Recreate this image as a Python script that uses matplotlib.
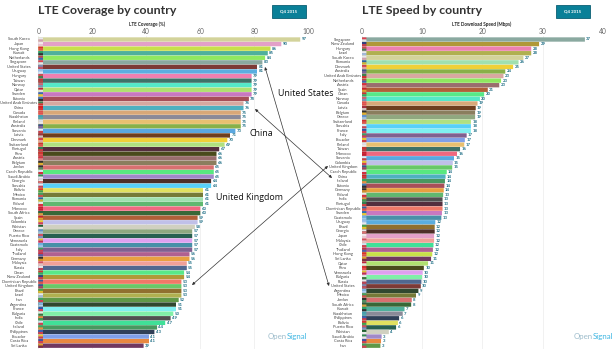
# LTE coverage and speed by country, two panels side by side.

import numpy as np
from matplotlib import pyplot as plt
from matplotlib.patches import FancyBboxPatch

plt.rcParams['font.family'] = ['Lato', 'DejaVu Sans']

# Coverage panel, order of the chart
cov_countries = ["South Korea", "Japan", "Hong Kong", "Kuwait", "Netherlands", "Singapore",
                 "United States", "Uruguay", "Hungary", "Taiwan", "Norway", "Qatar", "Sweden",
                 "Estonia", "United Arab Emirates", "China", "Canada", "Kazakhstan", "Finland",
                 "Australia", "Slovenia", "Latvia", "Denmark", "Switzerland", "Portugal", "Peru",
                 "Austria", "Belgium", "Jordan", "Czech Republic", "Saudi Arabia", "Georgia",
                 "Slovakia", "Bolivia", "Mexico", "Romania", "Poland", "Morocco", "South Africa",
                 "Spain", "Colombia", "Pakistan", "Greece", "Puerto Rico", "Venezuela",
                 "Guatemala", "Italy", "Thailand", "Germany", "Malaysia", "Russia", "Oman",
                 "New Zealand", "Dominican Republic", "United Kingdom", "Brazil", "Israel", "Iran",
                 "Argentina", "France", "Bulgaria", "India", "Chile", "Ireland", "Philippines",
                 "Ecuador", "Costa Rica", "Sri Lanka"]
cov_values = [97, 90, 86, 85, 84, 83, 81, 81, 79, 79, 79, 79, 79, 78, 76, 76, 75, 75, 75, 75,
              73, 71, 70, 69, 67, 66, 66, 66, 65, 65, 65, 64, 64, 61, 61, 61, 61, 60, 60, 59,
              59, 58, 57, 57, 57, 57, 57, 56, 56, 55, 55, 54, 54, 53, 53, 53, 53, 52, 51, 51,
              50, 49, 47, 44, 43, 41, 41, 39]

# Speed panel, order of the chart
speed_countries = ["Singapore", "New Zealand", "Hungary", "Israel", "South Korea", "Romania",
                   "Denmark", "Australia", "United Arab Emirates", "Netherlands", "Austria",
                   "Spain", "Oman", "Norway", "Canada", "Latvia", "Belgium", "Greece",
                   "Switzerland", "Slovakia", "France", "Italy", "Ecuador", "Finland", "Taiwan",
                   "Morocco", "Slovenia", "Colombia", "United Kingdom", "Czech Republic", "China",
                   "Ireland", "Estonia", "Germany", "Poland", "India", "Portugal",
                   "Dominican Republic", "Sweden", "Guatemala", "Uruguay", "Brazil", "Georgia",
                   "Japan", "Malaysia", "Chile", "Thailand", "Hong Kong", "Sri Lanka", "Qatar",
                   "Peru", "Venezuela", "Bulgaria", "Russia", "United States", "Argentina",
                   "Mexico", "Jordan", "South Africa", "Kuwait", "Kazakhstan", "Philippines",
                   "Bolivia", "Puerto Rico", "Pakistan", "Saudi Arabia", "Costa Rica", "Iran"]
speed_values = [37.0, 29.4, 28.1, 28.1, 26.8, 26.0, 25.1, 23.8, 23.5, 23.1, 22.8, 20.9, 20.3,
                19.6, 19.2, 18.9, 18.8, 18.8, 18.1, 18.1, 18.1, 17.4, 17.1, 17.0, 16.3, 15.8,
                15.3, 15.1, 15.0, 14.1, 13.9, 13.8, 13.7, 13.6, 13.5, 13.4, 13.4, 13.4, 13.3,
                13.2, 12.2, 12.1, 12.1, 12.0, 12.0, 11.9, 11.8, 11.7, 11.5, 11.0, 10.3, 10.1,
                10.0, 9.9, 9.8, 9.4, 9.0, 8.3, 8.2, 7.1, 6.8, 6.2, 6.0, 5.7, 4.5, 3.3, 3.2, 3.1]
speed_labels = [37, 29, 28, 28, 27, 26, 25, 24, 23, 23, 23, 21, 20, 20, 19, 19, 19, 19, 18, 18,
                18, 17, 17, 17, 16, 16, 15, 15, 15, 14, 14, 14, 14, 14, 13, 13, 13, 13, 13, 13,
                12, 12, 12, 12, 12, 12, 12, 12, 11, 11, 10, 10, 10, 10, 10, 9, 9, 8, 8, 7, 7,
                6, 6, 6, 4, 3, 3, 3]

# Every country keeps its colour in both panels (same order as cov_countries)
bar_colors = ["#d3d39b", "#e3a0c8", "#c8e04a", "#4fb09c", "#8fe860", "#8aa9a0", "#7d3a36",
              "#5aaee0", "#ee80b0", "#3e7268", "#55e8c8", "#b0e070", "#c878c0", "#a84e58",
              "#d8a8a0", "#4fb0c0", "#d8a878", "#8a8a98", "#e8c070", "#88b048", "#5aa8e0",
              "#6e3e1e", "#f0d038", "#b0e080", "#552e3e", "#4a4a1c", "#9a6e6e", "#8a7e5e",
              "#d87070", "#58e880", "#a088c8", "#4e3028", "#58d0f8", "#e0e060", "#757a38",
              "#a0e0b0", "#60b870", "#f06880", "#386838", "#b06038", "#c0c0e8", "#d0d0c0",
              "#90a880", "#286050", "#e0a0f0", "#4890a8", "#806090", "#b06090", "#e8a040",
              "#f0a098", "#506890", "#58e888", "#b09838", "#f07868", "#68c868", "#907030",
              "#b0b050", "#609848", "#304830", "#80f0f0", "#80f0a8", "#505050", "#40e098",
              "#489860", "#304058", "#80a0e8", "#e88840", "#703860"]

# Rough flag colours, upper half and lower half (same order as cov_countries)
flag_top = ["#e8e8f0", "#f4e8ec", "#d83030", "#30a060", "#c04050", "#e04050", "#8088b0", "#a0c0e8",
            "#c85050", "#d03030", "#d06070", "#c02040", "#3070b0", "#4080c0", "#408050", "#d82020",
            "#e05050", "#40a0b0", "#d8e0f0", "#405090", "#e8e8f0", "#a03040", "#d04050", "#d03030",
            "#308050", "#d83030", "#d83040", "#303030", "#303030", "#e0e0f0", "#309050", "#e8e8e8",
            "#e8e8f0", "#d83030", "#40a060", "#3060a0", "#e8e8e8", "#c82030", "#306040", "#c82030",
            "#e8c830", "#206030", "#6090d0", "#d05060", "#e0c030", "#70b0e0", "#40a060", "#c83040",
            "#303030", "#d05060", "#e8e8e8", "#d03030", "#304080", "#3060a0", "#405090", "#40a050",
            "#e8e8f0", "#40a060", "#80b8e8", "#3050a0", "#e8e8e8", "#e89040", "#d8e0f0", "#40a060",
            "#4060b0", "#e8c830", "#4050a0", "#e0a030"]
flag_bottom = ["#d0a0b0", "#e8c8d0", "#e05050", "#303030", "#4060b0", "#e8e8e8", "#c05060", "#e8e8f0",
               "#408050", "#c04040", "#8090b0", "#e8e0e0", "#e8c830", "#303030", "#d03030", "#d83030",
               "#e05050", "#50a8b0", "#e8e8f0", "#8060a0", "#d04040", "#d0c0c0", "#e0a0a0", "#e05050",
               "#d04040", "#e05050", "#e08080", "#e0b030", "#509060", "#d03040", "#e8e8e8", "#e07070",
               "#d04050", "#40a050", "#d05050", "#d0b030", "#d83040", "#c02030", "#d8a040", "#e0a030",
               "#d04050", "#e8e8e8", "#a0c0e0", "#8090c0", "#c03050", "#a0c8e8", "#d04050", "#5060a0",
               "#d09030", "#e0c0c0", "#c04050", "#40a060", "#c04050", "#d05050", "#a04060", "#e0c030",
               "#a0b8e0", "#d04050", "#b0d0f0", "#d84050", "#407040", "#40a050", "#d04050", "#e89040",
               "#d04050", "#d04040", "#d04050", "#803040"]

xticks_cov = [0, 20, 40, 60, 80, 100]
xticks_speed = [0, 10, 20, 30, 40]

color_of = dict(zip(cov_countries, bar_colors))
top_of = dict(zip(cov_countries, flag_top))
bottom_of = dict(zip(cov_countries, flag_bottom))

W, H = 615, 355
LAB_COLOR = "#1f6f86"


def panel(x0, x1, names, values, labels, xmax, ticks, title, xlabel, xlabel_x, button_x, logo_x, name_x):
    """Draw one panel; the x arguments are pixels of the figure."""
    top, bottom = 36.0, 349.0
    first, step = 39.5, 4.57
    ax = fig.add_axes([x0/W, 1 - bottom/H, (x1 - x0)/W, (bottom - top)/H])
    ax.set_xlim(0, xmax)
    ax.set_ylim((bottom - first)/step, (top - first)/step)
    rows = np.arange(len(names))
    flag_w = 4.7*xmax/(x1 - x0)

    # snap off, otherwise the rows round to whole pixels and leave white stripes
    ax.barh(rows, values, height=0.95, color=[color_of[n] for n in names], zorder=2, snap=False)
    ax.barh(rows - 0.22, flag_w, height=0.46, color=[top_of[n] for n in names], zorder=3, snap=False)
    ax.barh(rows + 0.22, flag_w, height=0.46, color=[bottom_of[n] for n in names], zorder=3, snap=False)

    for r, v, l in zip(rows, values, labels):
        ax.annotate(str(l), (v, r), xytext=(1.0, 0), textcoords="offset points", ha="left",
                    va="center", fontsize=3.1, fontweight="bold", color=LAB_COLOR, zorder=4)

    ax.set_xticks(ticks)
    ax.xaxis.tick_top()
    ax.tick_params(axis="x", length=0, pad=1.0, labelsize=4.9, labelcolor="#666666")
    ax.grid(axis="x", color="#efefef", linewidth=0.6, zorder=0)
    ax.set_yticks([])
    for s in ax.spines.values():
        s.set_visible(False)
    ax.patch.set_alpha(0)

    # Country names are centred in the column left of the bars
    for r, n in zip(rows, names):
        ax.annotate(n, (name_x/W, r), xycoords=("figure fraction", "data"), ha="center",
                    va="center", fontsize=2.9, color="#444444", annotation_clip=False)

    over.text(xlabel_x, 24, xlabel, ha="center", va="center", fontsize=3.3,
              fontweight="bold", color="#222222")
    over.text(x0, 10.5, title, ha="left", va="center", fontsize=8.9, fontweight="bold",
              color="#333333")

    # Quarter button with a dark edge
    over.add_patch(FancyBboxPatch((button_x, 5), 34, 13, boxstyle="square,pad=0",
                                  fc="#0a8098", ec="#0b5f73", lw=0.6))
    over.text(button_x + 17, 11.5, "Q4 2015", ha="center", va="center", fontsize=3.2,
              fontweight="bold", color="white")

    # Logo, two colours
    t = over.text(logo_x, 337, "Open", ha="left", va="center", fontsize=5.7, color="#9dbccb")
    fig.canvas.draw()
    bb = t.get_window_extent()
    over.text(bb.x1*W/fig.bbox.width, 337, "Signal", ha="left", va="center", fontsize=5.7,
              color="#3fb6e2")


fig = plt.figure(figsize=(W/100, H/100), dpi=100)

# Overlay in pixel coordinates for titles, callouts and buttons
over = fig.add_axes([0, 0, 1, 1], zorder=5)
over.set_xlim(0, W)
over.set_ylim(H, 0)
over.axis("off")

panel(38.3, 308.3, cov_countries, cov_values, cov_values, 100, xticks_cov,
      "LTE Coverage by country", "LTE Coverage (%)", 147, 272, 268, 19)
panel(361.7, 603.0, speed_countries, speed_values, speed_labels, 40, xticks_speed,
      "LTE Speed by country", "LTE Download Speed (Mbps)", 482, 556, 574, 343)

# Double headed callout lines linking the same country in both panels
for a, b in [((265, 67), (329, 286)), ((255, 109), (332, 178)), ((192, 285), (328, 166))]:
    over.annotate("", xy=a, xytext=b, arrowprops=dict(arrowstyle="<|-|>", color="#333333", lw=0.5,
                                                      mutation_scale=4, shrinkA=0, shrinkB=0))

over.text(278, 93, "United States", ha="left", va="center", fontsize=6.4, color="#111111",
          family=["Open Sans", "DejaVu Sans"])
over.text(249, 134, "China", ha="left", va="center", fontsize=6.4, color="#111111",
          family=["Open Sans", "DejaVu Sans"])
over.text(216, 197, "United Kingdom", ha="left", va="center", fontsize=6.4, color="#111111",
          family=["Open Sans", "DejaVu Sans"])

fig.savefig("out.png", dpi=100)
